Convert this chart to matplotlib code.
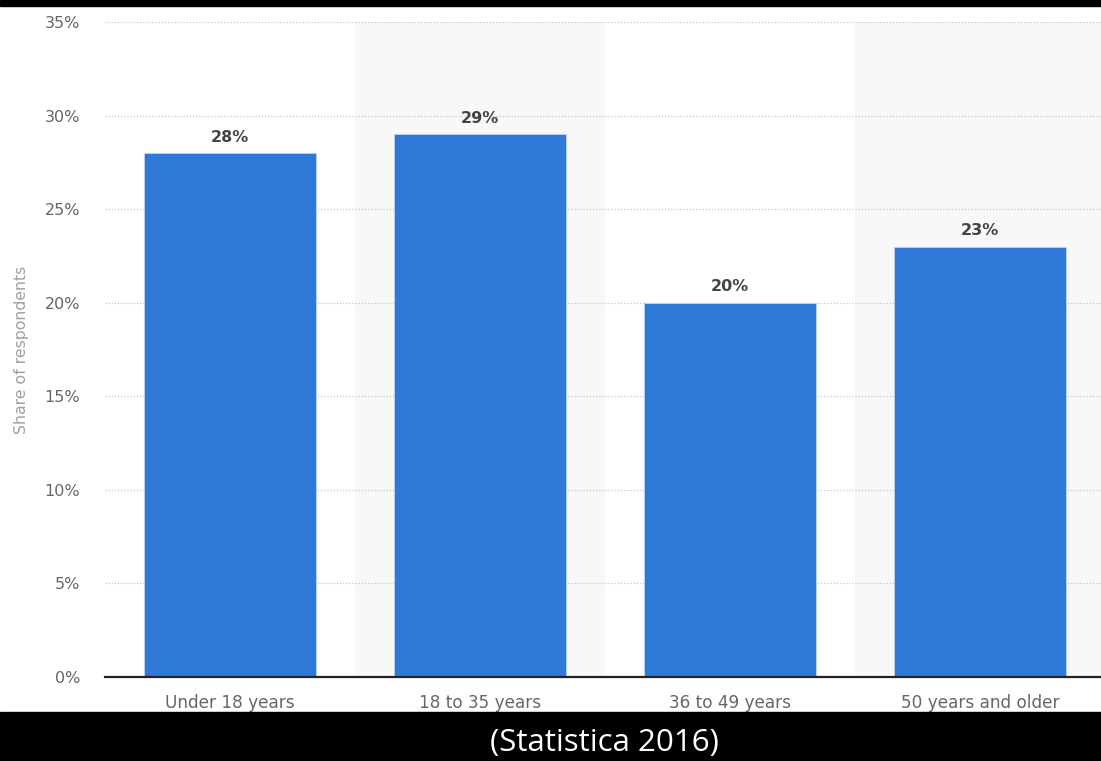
import matplotlib
matplotlib.use("Agg")
import matplotlib.pyplot as plt
from matplotlib.patches import Rectangle

categories = ["Under 18 years", "18 to 35 years", "36 to 49 years", "50 years and older"]
values = [28, 29, 20, 23]
yticks = [0, 5, 10, 15, 20, 25, 30, 35]

W, H = 1101, 761
fig = plt.figure(figsize=(W / 100, H / 100), dpi=100)
fig.patch.set_facecolor("white")
plt.rcParams["font.family"] = ["DejaVu Sans"]

# axes in pixel coords: left 105, right 1105, top 22, bottom 677
ax = fig.add_axes([105 / W, 1 - 677 / H, 1000 / W, (677 - 22) / H])
ax.set_xlim(-0.5, 3.5)
ax.set_ylim(0, 35)
ax.set_facecolor("white")

# alternating column bands
for i in range(len(categories)):
    if i % 2 == 1:
        ax.axvspan(i - 0.5, i + 0.5, color="#f8f8f8", zorder=0, lw=0)

for y in yticks[1:]:
    ax.axhline(y, color="#c8c8c8", lw=0.9, ls=(0, (1, 1.5)), zorder=1)

x = range(len(categories))
ax.bar(x, values, width=0.69, color="#2e78d8", edgecolor="#b8d2f2",
       linewidth=0.7, zorder=2)
for xi, v in zip(x, values):
    ax.text(xi, v + 0.45, f"{v}%", ha="center", va="bottom", fontsize=11.5,
            fontweight="bold", color="#444444", zorder=3)

ax.axhline(0, color="#222222", lw=1.6, zorder=4, clip_on=False)

for s in ax.spines.values():
    s.set_visible(False)
ax.set_yticks(yticks)
ax.set_yticklabels([f"{t}%" for t in yticks], fontsize=11.5, color="#666666")
ax.set_xticks(list(x))
ax.set_xticklabels(categories, fontsize=12.2, color="#666666")
ax.tick_params(axis="both", length=0)
ax.tick_params(axis="y", pad=18)
ax.tick_params(axis="x", pad=12)

fig.text(22 / W, 1 - 350 / H, "Share of respondents", rotation=90, ha="center",
         va="center", fontsize=11.3, color="#a0a0a0")

# black frame bands
fig.add_artist(Rectangle((0, 1 - 6 / H), 1, 6 / H, transform=fig.transFigure,
                         color="black", zorder=10))
fig.add_artist(Rectangle((0, 0), 1, (H - 712) / H, transform=fig.transFigure,
                         color="black", zorder=10))
fig.text(604 / W, 1 - 743 / H, "(Statistica 2016)", ha="center", va="center",
         fontsize=22.5, color="white", family="Open Sans", zorder=11)

fig.savefig("out.png", dpi=100)
